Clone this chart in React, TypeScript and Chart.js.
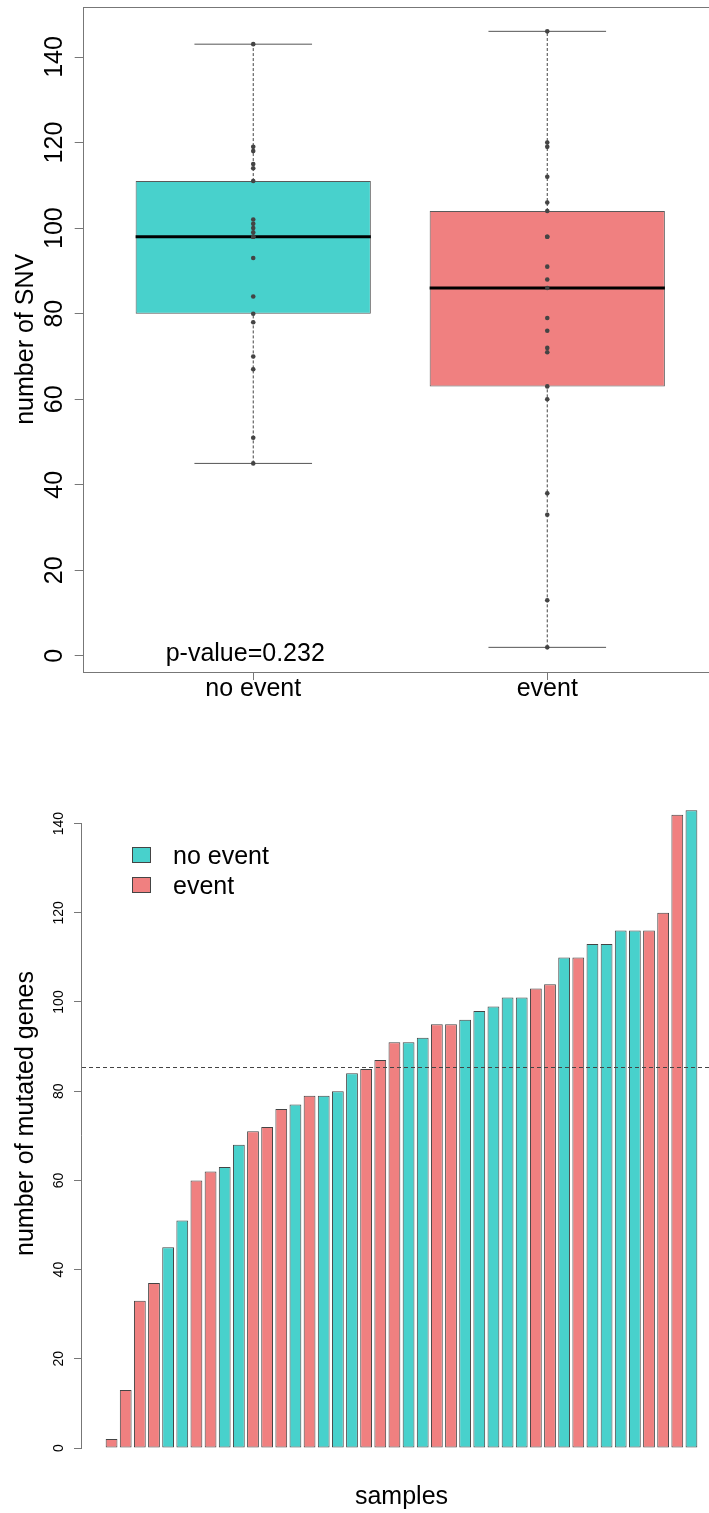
import React, { useEffect, useRef } from 'react';
import { Chart, registerables } from 'chart.js';

Chart.register(...registerables);

const FONT = "'Liberation Sans', Arial, Helvetica, sans-serif";

// ---------- top chart: number of SNV per group ----------
const groupLabels = ['no event', 'event'];
const groupColors = ['#48D1CC', '#F08080'];
const noEventSNV = [45, 51, 67, 70, 78, 80, 84, 93, 98, 98, 98, 99, 100, 101, 102, 111, 114, 115, 118, 119, 143];
const eventSNV = [2, 13, 33, 38, 60, 63, 71, 72, 76, 79, 86, 88, 91, 98, 98, 104, 106, 112, 119, 120, 146];
const snvTicks = [0, 20, 40, 60, 80, 100, 120, 140];
const snvTitle = 'number of SNV';
const pValueText = 'p-value=0.232';

// ---------- bottom chart: mutated genes per sample ----------
const sampleValues = [2, 13, 33, 37, 45, 51, 60, 62, 63, 68, 71, 72, 76, 77, 79, 79, 80, 84, 85, 87, 91, 91, 92, 95, 95, 96, 98, 99, 101, 101, 103, 104, 110, 110, 113, 113, 116, 116, 116, 120, 142, 143];
const sampleGroups = [
  'event', 'event', 'event', 'event', 'no event', 'no event', 'event', 'event', 'no event', 'no event',
  'event', 'event', 'event', 'no event', 'event', 'no event', 'no event', 'no event', 'event', 'event',
  'event', 'no event', 'no event', 'event', 'event', 'no event', 'no event', 'no event', 'no event', 'no event',
  'event', 'event', 'no event', 'event', 'no event', 'no event', 'no event', 'no event', 'event', 'event',
  'event', 'no event',
];
const geneTicks = [0, 20, 40, 60, 80, 100, 120, 140];
const geneYLimits = [0, 150];
const geneTitle = 'number of mutated genes';
const sampleTitle = 'samples';

// ---------- helpers ----------
function fivenum(values: number[]) {
  const x = [...values].sort((a, b) => a - b);
  const n = x.length;
  const n4 = Math.floor((n + 3) / 2) / 2;
  const d = [1, n4, (n + 1) / 2, n + 1 - n4, n];
  return d.map((di) => 0.5 * (x[Math.floor(di) - 1] + x[Math.ceil(di) - 1]));
}

function boxStats(values: number[]) {
  const [, q1, med, q3] = fivenum(values);
  const iqr = q3 - q1;
  const inside = values.filter((v) => v >= q1 - 1.5 * iqr && v <= q3 + 1.5 * iqr);
  return { q1, med, q3, lo: Math.min(...inside), hi: Math.max(...inside) };
}

const rExtend = (lo: number, hi: number) => {
  const d = (hi - lo) * 0.04;
  return [lo - d, hi + d];
};

const fixSize = (prop: 'width' | 'height', size: number) => (s: any) => {
  s[prop] = size;
  s.paddingTop = 0;
  s.paddingBottom = 0;
  s.paddingLeft = 0;
  s.paddingRight = 0;
};

const titleFont = { family: FONT, size: 25 };

function BoxChart() {
  const ref = useRef<HTMLCanvasElement>(null);
  useEffect(() => {
    const groups = [noEventSNV, eventSNV];
    const stats = groups.map(boxStats);
    const all = groups.flat();
    const [ymin, ymax] = rExtend(Math.min(...all), Math.max(...all));
    const [xmin, xmax] = rExtend(0.5, groups.length + 0.5);
    const boxWidth = 0.8;
    const capWidth = 0.4;

    const seg = (x1: number, y1: number, x2: number, y2: number, style: any) => ({
      type: 'line',
      data: [{ x: x1, y: y1 }, { x: x2, y: y2 }],
      pointRadius: 0,
      pointHoverRadius: 0,
      fill: false,
      tension: 0,
      ...style,
    });

    const datasets: any[] = [
      {
        type: 'bar',
        data: stats.map((s, i) => ({ x: i + 1, y: [s.q1, s.q3] })),
        backgroundColor: groupColors,
        borderColor: '#5a5a5a',
        borderWidth: 1,
        borderSkipped: false,
        barPercentage: boxWidth,
        categoryPercentage: 1,
        order: 3,
      },
    ];
    stats.forEach((s, i) => {
      const x = i + 1;
      const dashed = { borderColor: '#444', borderWidth: 1, borderDash: [3, 2], order: 2 };
      const solid = { borderColor: '#555', borderWidth: 1, order: 2 };
      datasets.push(seg(x, s.q3, x, s.hi, dashed));
      datasets.push(seg(x, s.lo, x, s.q1, dashed));
      datasets.push(seg(x - capWidth / 2, s.hi, x + capWidth / 2, s.hi, solid));
      datasets.push(seg(x - capWidth / 2, s.lo, x + capWidth / 2, s.lo, solid));
      datasets.push(seg(x - boxWidth / 2, s.med, x + boxWidth / 2, s.med, { borderColor: '#000', borderWidth: 3, order: 1 }));
    });
    datasets.push({
      type: 'scatter',
      data: groups.flatMap((g, i) => g.map((v) => ({ x: i + 1, y: v }))),
      pointRadius: 2.3,
      pointHoverRadius: 2.3,
      pointBackgroundColor: '#444',
      pointBorderWidth: 0,
      order: 0,
    });

    const framePlugin = {
      id: 'frame',
      afterDraw(chart: any) {
        const { ctx, chartArea: a } = chart;
        ctx.save();
        ctx.strokeStyle = '#777';
        ctx.lineWidth = 1;
        const l = Math.round(a.left) + 0.5;
        const t = Math.round(a.top) + 0.5;
        const r = Math.round(a.right) + 0.5;
        const b = Math.round(a.bottom) + 0.5;
        ctx.strokeRect(l, t, r - l, b - t);
        ctx.restore();
      },
    };
    const pValuePlugin = {
      id: 'pvalue',
      afterDatasetsDraw(chart: any) {
        const { ctx, scales } = chart;
        const x = scales.x.getPixelForValue(1) - 8;
        const y = scales.y.getPixelForValue(0) + 5;
        ctx.save();
        ctx.font = `25px ${FONT}`;
        ctx.fillStyle = '#000';
        ctx.textAlign = 'center';
        ctx.textBaseline = 'alphabetic';
        ctx.fillText(pValueText, x, y);
        ctx.restore();
      },
    };

    const chart = new Chart(ref.current as HTMLCanvasElement, {
      type: 'bar',
      data: { datasets },
      options: {
        animation: false,
        responsive: false,
        events: [],
        layout: { padding: { top: 6.7, right: 22.2, left: 0, bottom: 0 } },
        plugins: { legend: { display: false }, tooltip: { enabled: false } },
        scales: {
          x: {
            type: 'linear',
            offset: false,
            min: xmin,
            max: xmax,
            afterBuildTicks: (s: any) => {
              s.ticks = groupLabels.map((_, i) => ({ value: i + 1 }));
            },
            afterFit: fixSize('height', 48),
            border: { display: false },
            grid: { display: true, offset: false, drawOnChartArea: false, drawTicks: true, tickLength: 8, color: '#777' },
            ticks: {
              autoSkip: false,
              maxRotation: 0,
              padding: -5.5,
              color: '#000',
              font: { family: FONT, size: 25 },
              callback: (v: any) => groupLabels[Math.round(Number(v)) - 1] ?? '',
            },
          },
          y: {
            type: 'linear',
            min: ymin,
            max: ymax,
            afterBuildTicks: (s: any) => {
              s.ticks = snvTicks.map((v) => ({ value: v }));
            },
            afterFit: fixSize('width', 82.7),
            border: { display: false },
            grid: { display: true, drawOnChartArea: false, drawTicks: true, tickLength: 8, color: '#777' },
            ticks: {
              minRotation: 90,
              maxRotation: 90,
              crossAlign: 'center',
              padding: -1.45,
              color: '#000',
              font: { family: FONT, size: 25 },
            },
            title: { display: true, text: snvTitle, color: '#000', font: titleFont, padding: { top: 11, bottom: 0 } },
          },
        },
      } as any,
      plugins: [framePlugin, pValuePlugin],
    });
    return () => chart.destroy();
  }, []);
  return <canvas ref={ref} width={740} height={720} style={{ position: 'absolute', left: 0, top: 0 }} />;
}

function SampleBarChart() {
  const ref = useRef<HTMLCanvasElement>(null);
  useEffect(() => {
    const n = sampleValues.length;
    const span = n * 1.2 - 0.2;
    const pad = (0.5 + 0.04 * span) / 1.2;
    const [ymin, ymax] = rExtend(geneYLimits[0], geneYLimits[1]);
    const mean = sampleValues.reduce((a, b) => a + b, 0) / n;

    const axisLinePlugin = {
      id: 'axisLine',
      afterDraw(chart: any) {
        const { ctx, chartArea: a, scales } = chart;
        const x = Math.round(a.left) - 0.5;
        ctx.save();
        ctx.strokeStyle = '#777';
        ctx.lineWidth = 1;
        ctx.beginPath();
        ctx.moveTo(x, scales.y.getPixelForValue(geneTicks[0]));
        ctx.lineTo(x, scales.y.getPixelForValue(geneTicks[geneTicks.length - 1]));
        ctx.stroke();
        ctx.restore();
      },
    };
    const meanLinePlugin = {
      id: 'meanLine',
      afterDatasetsDraw(chart: any) {
        const { ctx, chartArea: a, scales } = chart;
        const y = Math.round(scales.y.getPixelForValue(mean)) + 0.5;
        ctx.save();
        ctx.strokeStyle = '#444';
        ctx.lineWidth = 1;
        ctx.setLineDash([4, 3]);
        ctx.beginPath();
        ctx.moveTo(a.left, y);
        ctx.lineTo(a.right, y);
        ctx.stroke();
        ctx.restore();
      },
    };
    const legendPlugin = {
      id: 'rLegend',
      afterDraw(chart: any) {
        const { ctx, chartArea: a } = chart;
        ctx.save();
        ctx.font = `25px ${FONT}`;
        ctx.textAlign = 'left';
        ctx.textBaseline = 'alphabetic';
        groupLabels.forEach((label, i) => {
          const bx = Math.round(a.left + 49.7) + 0.5;
          const by = Math.round(a.top + 94.5 + i * 30) + 0.5;
          ctx.fillStyle = groupColors[i];
          ctx.fillRect(bx, by, 18, 15);
          ctx.strokeStyle = '#444';
          ctx.lineWidth = 1;
          ctx.strokeRect(bx, by, 18, 15);
          ctx.fillStyle = '#000';
          ctx.fillText(label, bx + 40.5, by + 16.5);
        });
        ctx.restore();
      },
    };

    const chart = new Chart(ref.current as HTMLCanvasElement, {
      type: 'bar',
      data: {
        datasets: [
          {
            type: 'bar',
            data: sampleValues.map((v, i) => ({ x: i, y: v })),
            backgroundColor: sampleGroups.map((g) => groupColors[groupLabels.indexOf(g)]),
            borderColor: '#444',
            borderWidth: 1,
            borderSkipped: false,
            barPercentage: 1 / 1.2,
            categoryPercentage: 1,
          },
        ],
      },
      options: {
        animation: false,
        responsive: false,
        events: [],
        layout: { padding: { top: 32.2, right: 19, left: 0, bottom: 0 } },
        plugins: { legend: { display: false }, tooltip: { enabled: false } },
        scales: {
          x: {
            type: 'linear',
            offset: false,
            min: -pad,
            max: n - 1 + pad,
            afterBuildTicks: (s: any) => {
              s.ticks = sampleValues.map((_, i) => ({ value: i }));
            },
            afterFit: fixSize('height', 38.2),
            border: { display: false },
            grid: { display: false, offset: false },
            ticks: { display: false },
            title: { display: true, text: sampleTitle, color: '#000', font: titleFont, padding: { top: 0, bottom: 1 } },
          },
          y: {
            type: 'linear',
            min: ymin,
            max: ymax,
            afterBuildTicks: (s: any) => {
              s.ticks = geneTicks.map((v) => ({ value: v }));
            },
            afterFit: fixSize('width', 82),
            border: { display: false },
            grid: { display: true, drawOnChartArea: false, drawTicks: true, tickLength: 8, color: '#777' },
            ticks: {
              minRotation: 90,
              maxRotation: 90,
              crossAlign: 'center',
              padding: 2.8,
              color: '#000',
              font: { family: FONT, size: 14 },
            },
            title: { display: true, text: geneTitle, color: '#000', font: titleFont, padding: { top: 11, bottom: 0 } },
          },
        },
      } as any,
      plugins: [axisLinePlugin, meanLinePlugin, legendPlugin],
    });
    return () => chart.destroy();
  }, []);
  return <canvas ref={ref} width={740} height={793} style={{ position: 'absolute', left: 0, top: 720 }} />;
}

export default function App() {
  return (
    <div
      style={{
        position: 'absolute',
        left: 0,
        top: 0,
        width: 709,
        height: 1513,
        overflow: 'hidden',
        background: '#fff',
      }}
    >
      <BoxChart />
      <SampleBarChart />
    </div>
  );
}
